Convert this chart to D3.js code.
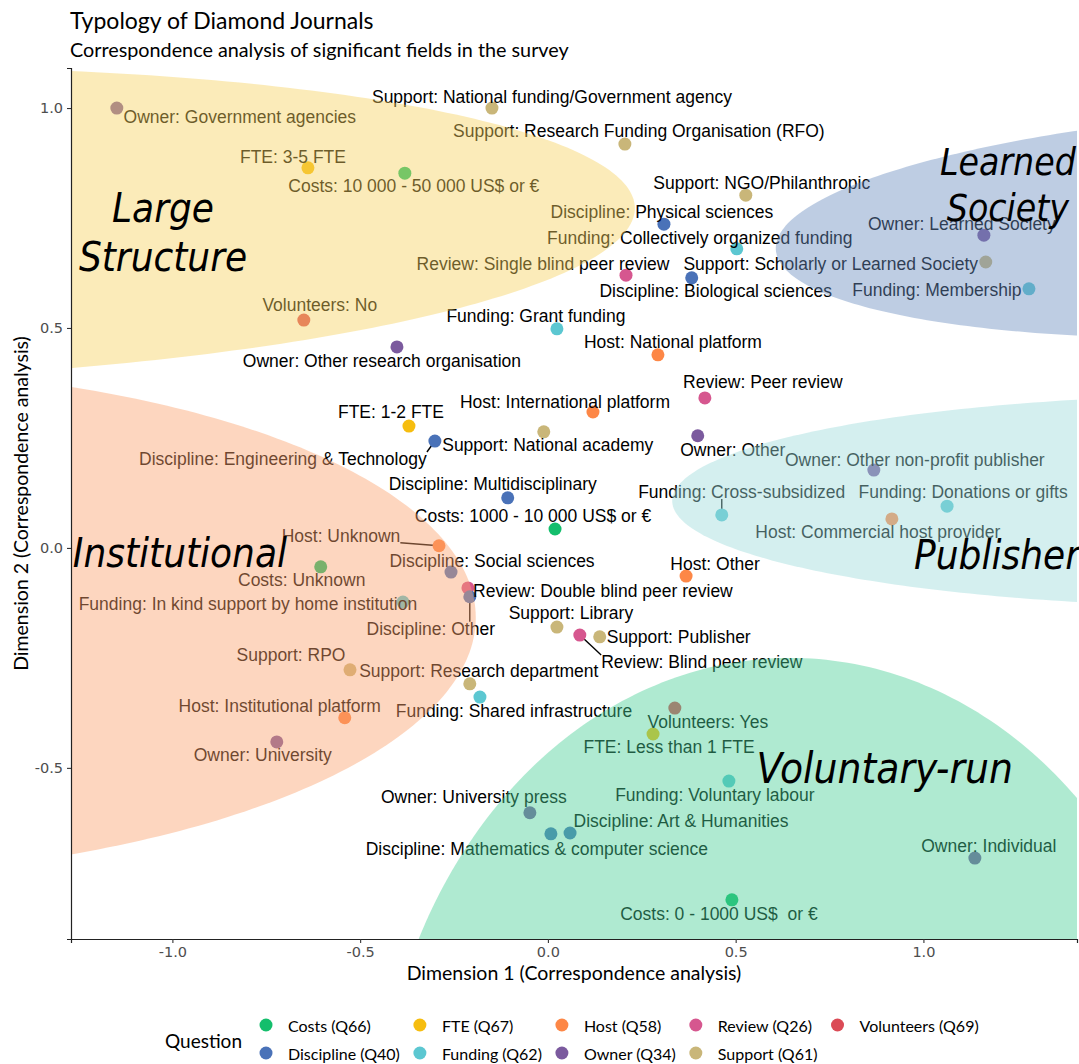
<!DOCTYPE html>
<html><head><meta charset="utf-8">
<script src="https://cdn.jsdelivr.net/npm/d3@7"></script>
<style>body{margin:0;background:#fff} text{white-space:pre}</style>
</head><body>
<svg id="chart" width="1079" height="1064"></svg>
<script>
// ---------------- DATA ----------------
const labels = [
  "Owner: Government agencies","Support: National funding/Government agency","Support: Research Funding Organisation (RFO)",
  "FTE: 3-5 FTE","Costs: 10 000 - 50 000 US$ or €","Support: NGO/Philanthropic","Discipline: Physical sciences",
  "Funding: Collectively organized funding","Owner: Learned Society","Review: Single blind peer review",
  "Support: Scholarly or Learned Society","Discipline: Biological sciences","Funding: Membership","Volunteers: No",
  "Funding: Grant funding","Owner: Other research organisation","Host: National platform","Review: Peer review",
  "Host: International platform","FTE: 1-2 FTE","Support: National academy","Discipline: Engineering & Technology",
  "Owner: Other","Owner: Other non-profit publisher","Discipline: Multidisciplinary","Funding: Cross-subsidized",
  "Funding: Donations or gifts","Host: Commercial host provider","Costs: 1000 - 10 000 US$ or €","Host: Unknown",
  "Costs: Unknown","Discipline: Social sciences","Host: Other","Review: Double blind peer review","Discipline: Other",
  "Funding: In kind support by home institution","Support: Library","Review: Blind peer review","Support: Publisher",
  "Support: RPO","Support: Research department","Funding: Shared infrastructure","Host: Institutional platform",
  "Volunteers: Yes","FTE: Less than 1 FTE","Owner: University","Funding: Voluntary labour","Owner: University press",
  "Discipline: Art & Humanities","Discipline: Mathematics & computer science","Owner: Individual","Costs: 0 - 1000 US$  or €"
];
const questions = [
  "Owner","Support","Support","FTE","Costs","Support","Discipline","Funding","Owner","Review",
  "Support","Discipline","Funding","Volunteers","Funding","Owner","Host","Review","Host","FTE",
  "Support","Discipline","Owner","Owner","Discipline","Funding","Funding","Host","Costs","Host",
  "Costs","Discipline","Host","Review","Discipline","Funding","Support","Review","Support","Support",
  "Support","Funding","Host","Volunteers","FTE","Owner","Funding","Owner","Discipline","Discipline","Owner","Costs"
];
const dim1 = [
  -1.148,-0.149,0.205,-0.639,-0.381,0.527,0.309,0.503,1.161,0.208,
  1.166,0.383,1.281,-0.650,0.024,-0.402,0.293,0.418,0.120,-0.370,
  -0.011,-0.301,0.399,0.868,-0.107,0.463,1.063,0.916,0.019,-0.290,
  -0.605,-0.258,0.368,-0.213,-0.208,-0.386,0.024,0.085,0.138,-0.527,
  -0.208,-0.181,-0.541,0.338,0.280,-0.722,0.482,-0.048,0.059,0.008,1.137,0.490
];
const dim2 = [
  1.000,1.000,0.918,0.864,0.852,0.802,0.736,0.680,0.711,0.620,
  0.650,0.614,0.589,0.518,0.498,0.457,0.439,0.341,0.309,0.277,
  0.264,0.243,0.255,0.177,0.114,0.075,0.095,0.066,0.043,0.005,
  -0.043,-0.055,-0.064,-0.091,-0.111,-0.123,-0.180,-0.198,-0.202,-0.277,
  -0.309,-0.339,-0.386,-0.364,-0.423,-0.441,-0.530,-0.602,-0.648,-0.650,-0.705,-0.800
];
const questionKeys   = ["Costs","Discipline","FTE","Funding","Host","Owner","Review","Support","Volunteers"];
const questionLabels = ["Costs (Q66)","Discipline (Q40)","FTE (Q67)","Funding (Q62)","Host (Q58)","Owner (Q34)","Review (Q26)","Support (Q61)","Volunteers (Q69)"];
const xTicks = [-1.0,-0.5,0.0,0.5,1.0];
const yTicks = [-0.5,0.0,0.5,1.0];

// cluster ellipses (data units)
const clusterNames = ["Large Structure","Learned Society","Publisher","Institutional","Voluntary-run"];
const clusterCx = [-1.992, 2.003, 1.870, -1.992, 0.645];
const clusterCy = [0.734, 0.741, 0.107, -0.170, -1.386];
const clusterRx = [2.224, 1.398, 1.539, 1.800, 1.100];
const clusterRy = [0.357, 0.257, 0.241, 0.580, 1.136];
const clusterAngle = [1.2, 3, 0, 0.5, 0];

// ---------------- STYLE / LAYOUT ----------------
const qColor = {Costs:"#14BE6C",Discipline:"#4A72B8",FTE:"#F6BD0F",Funding:"#5CC7D1",Host:"#FD8746",
  Owner:"#7B5A9E",Review:"#D6578F",Support:"#C9B679",Volunteers:"#DB4B56"};
const clusterFill = ["#F6D260","#6B8DBF","#9DDBDB","#FAA26E","#49CF97"];
const clusterOpacity = 0.44;
const clusterFontSize = [40, 37, 40, 40, 42];
// label positions of cluster names (data coords of text centre)
const clusterLabelPos = [[-1.025,0.773],[1.225,0.877],[1.196,-0.016],[-0.980,-0.011],[0.897,-0.500]];
// label offsets in px relative to the point: [dx, dy, segment]
const labelOffsets = [
  [123,9,0],[60,-11,0],[14,-13,0],[-15,-11,0],[9,13,0],[16,-12,0],[-2,-12,0],[-37,-11,0],[-22,-11,0],[-83,-11,0],
  [-155,2,0],[24,13,0],[-92,1,0],[16,-15,0],[-21,-13,0],[-15,14,0],[15,-13,0],[58,-16,0],[-28,-10,0],[-18,-14,0],
  [4,13,0],[-152,18,1],[35,14,0],[41,-10,0],[-15,-14,0],[20,-23,1],[16,-14,0],[-14,13,0],[-22,-13,0],[-98,-10,1],
  [-19,13,0],[41,-11,0],[29,-12,0],[135,3,0],[-39,32,1],[-155,2,0],[14,-14,0],[122,27,1],[79,0,0],[-59,-15,0],
  [9,-13,0],[34,14,0],[-65,-12,0],[33,14,0],[16,13,0],[-14,13,0],[-14,14,0],[-56,-16,0],[111,-12,0],[-14,15,0],[14,-12,0],[-13,14,0]
];

const P = {left:71, right:1077, top:68, bottom:939};
const svg = d3.select("#chart");

const x = d3.scaleLinear().domain([-1.270, 1.409]).range([P.left, P.right]);
const y = d3.scaleLinear().domain([-0.889, 1.091]).range([P.bottom, P.top]);

const labelFont = "'Liberation Sans', Arial, Helvetica, sans-serif";
const uiFont = "Lato, 'Open Sans', sans-serif";

svg.append("defs").append("clipPath").attr("id","panel")
  .append("rect").attr("x",P.left).attr("y",P.top).attr("width",P.right-P.left).attr("height",P.bottom-P.top);

// points + labels
const pts = labels.map((l,i)=>({label:l,q:questions[i],px:x(dim1[i]),py:y(dim2[i]),off:labelOffsets[i]}));
const gSeg = svg.append("g");
const gPts = svg.append("g");
const gLab = svg.append("g");

const texts = gLab.selectAll("text").data(pts).join("text")
  .attr("x",d=>d.px+d.off[0]).attr("y",d=>d.py+d.off[1])
  .attr("text-anchor","middle").attr("dominant-baseline","central")
  .attr("font-family",labelFont).attr("font-size",17.5).attr("fill","#000")
  .text(d=>d.label);

texts.each(function(d){
  if(!d.off[2]) return;
  const b = this.getBBox();
  const nx = Math.max(b.x, Math.min(d.px, b.x+b.width));
  const ny = Math.max(b.y+3, Math.min(d.py, b.y+b.height-3));
  gSeg.append("line").attr("x1",d.px).attr("y1",d.py).attr("x2",nx).attr("y2",ny)
    .attr("stroke","#000").attr("stroke-width",1.4);
});

gPts.selectAll("circle").data(pts).join("circle")
  .attr("cx",d=>d.px).attr("cy",d=>d.py).attr("r",6.5).attr("fill",d=>qColor[d.q]);

// ellipses overlay
const gEll = svg.append("g").attr("clip-path","url(#panel)");
clusterNames.forEach((n,i)=>{
  const cx = x(clusterCx[i]), cy = y(clusterCy[i]);
  const rx = x(clusterCx[i]+clusterRx[i]) - cx;
  const ry = cy - y(clusterCy[i]+clusterRy[i]);
  const phi = -clusterAngle[i]*Math.PI/180;
  const ptsE = d3.range(0,360,1).map(a=>{
    const t=a*Math.PI/180;
    return [cx + rx*Math.cos(t)*Math.cos(phi) - ry*Math.sin(t)*Math.sin(phi),
            cy + rx*Math.cos(t)*Math.sin(phi) + ry*Math.sin(t)*Math.cos(phi)];
  });
  gEll.append("path").attr("d",d3.line().curve(d3.curveLinearClosed)(ptsE))
    .attr("fill",clusterFill[i]).attr("fill-opacity",clusterOpacity);
});

// cluster labels
const clusterLines = [["Large","Structure"],["Learned","Society"],["Publisher"],["Institutional"],["Voluntary-run"]];
clusterLines.forEach((lines,i)=>{
  const t = svg.append("text")
    .attr("x",x(clusterLabelPos[i][0])).attr("y",y(clusterLabelPos[i][1]))
    .attr("text-anchor","middle").attr("dominant-baseline","central")
    .attr("font-family","'DejaVu Sans Condensed','DejaVu Sans',sans-serif")
    .attr("font-stretch","condensed").attr("font-style","italic").attr("font-size",clusterFontSize[i]).attr("fill","#000");
  lines.forEach((ln,j)=>t.append("tspan").attr("x",x(clusterLabelPos[i][0])).attr("dy",j?clusterFontSize[i]*1.15+3:0).text(ln));
});

// axes
const fmt = d=>d.toFixed(1);
const gx = svg.append("g").attr("transform",`translate(0,${P.bottom})`)
  .call(d3.axisBottom(x).tickValues(xTicks).tickFormat(fmt).tickSizeOuter(0).tickSize(4).tickPadding(4));
const gy = svg.append("g").attr("transform",`translate(${P.left},0)`)
  .call(d3.axisLeft(y).tickValues(yTicks).tickFormat(fmt).tickSizeOuter(0).tickSize(4).tickPadding(4));
[gx,gy].forEach(g=>{
  g.select(".domain").attr("stroke","#222").attr("stroke-width",1.2);
  g.selectAll(".tick line").attr("stroke","#333").attr("stroke-width",1.1);
  g.selectAll(".tick text").attr("font-family","'DejaVu Sans',sans-serif").attr("font-size",14.5).attr("fill","#4d4d4d");
});

// axis titles
svg.append("text").attr("x",(P.left+P.right)/2).attr("y",972).attr("text-anchor","middle")
  .attr("dominant-baseline","central").attr("font-family",uiFont).attr("font-size",19.5).attr("fill","#000")
  .text("Dimension 1 (Correspondence analysis)");
svg.append("text").attr("transform",`translate(20,${(P.top+P.bottom)/2}) rotate(-90)`).attr("text-anchor","middle")
  .attr("dominant-baseline","central").attr("font-family",uiFont).attr("font-size",19.5).attr("fill","#000")
  .text("Dimension 2 (Correspondence analysis)");

// title
svg.append("text").attr("x",70).attr("y",20).attr("dominant-baseline","central")
  .attr("font-family",uiFont).attr("font-size",23).attr("fill","#000").text("Typology of Diamond Journals");
svg.append("text").attr("x",70).attr("y",49).attr("dominant-baseline","central")
  .attr("font-family",uiFont).attr("font-size",19.8).attr("fill","#000").text("Correspondence analysis of significant fields in the survey");

// legend
const lg = svg.append("g");
lg.append("text").attr("x",165).attr("y",1040).attr("dominant-baseline","central")
  .attr("font-family",uiFont).attr("font-size",19).attr("fill","#000").text("Question");
let colX = 266;
const rowsY = [1025,1053];
for(let c=0;c<Math.ceil(questionKeys.length/2);c++){
  let maxW = 0;
  for(let r=0;r<2;r++){
    const k = c*2+r; if(k>=questionKeys.length) continue;
    lg.append("circle").attr("cx",colX).attr("cy",rowsY[r]).attr("r",6.5).attr("fill",qColor[questionKeys[k]]);
    const t = lg.append("text").attr("x",colX+22).attr("y",rowsY[r]).attr("dominant-baseline","central")
      .attr("font-family",uiFont).attr("font-size",16).attr("fill","#000").text(questionLabels[k]);
    maxW = Math.max(maxW, t.node().getComputedTextLength());
  }
  colX = colX + 22 + maxW + 20;
}
</script>
</body></html>
